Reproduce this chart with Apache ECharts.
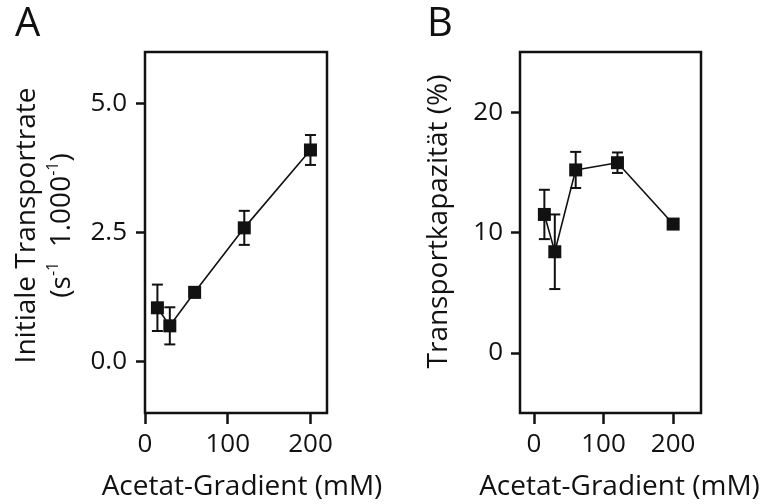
<!DOCTYPE html>
<html>
<head>
<meta charset="utf-8">
<script src="https://cdn.jsdelivr.net/npm/echarts@6/dist/echarts.min.js"></script>
<style>
html,body{margin:0;padding:0;background:#fff;}
#chart{width:767px;height:504px;}
</style>
</head>
<body>
<div id="chart"></div>
<script>
// Acetate gradient (mM)
const gradient = [15, 30, 60, 120, 200];
// Panel A: initial transport rate
const rateMean = [1.04, 0.69, 1.34, 2.59, 4.10];
const rateErr  = [0.45, 0.36, 0.10, 0.33, 0.29];
// Panel B: transport capacity (%)
const capMean = [11.5, 8.4, 15.2, 15.8, 10.7];
const capErr  = [2.05, 3.1, 1.5, 0.85, 0.4];
// tick labels
const xTicks = [0, 100, 200];
const rateTicks = [0, 2.5, 5];
const capTicks = [0, 10, 20];

const FONT = '"Open Sans", "Segoe UI", sans-serif';
const INK = '#111';

function errSeries(xIdx, yIdx, mean, err) {
  return {
    type: 'custom',
    xAxisIndex: xIdx, yAxisIndex: yIdx,
    z: 3,
    data: gradient.map((g, i) => [g, mean[i] - err[i], mean[i] + err[i]]),
    renderItem: function (params, api) {
      const lo = api.coord([api.value(0), api.value(1)]);
      const hi = api.coord([api.value(0), api.value(2)]);
      const w = 5.5;
      const st = { stroke: INK, lineWidth: 2 };
      return {
        type: 'group',
        children: [
          { type: 'line', shape: { x1: lo[0], y1: lo[1], x2: hi[0], y2: hi[1] }, style: st },
          { type: 'line', shape: { x1: lo[0] - w, y1: lo[1], x2: lo[0] + w, y2: lo[1] }, style: st },
          { type: 'line', shape: { x1: hi[0] - w, y1: hi[1], x2: hi[0] + w, y2: hi[1] }, style: st }
        ]
      };
    }
  };
}

function lineSeries(xIdx, yIdx, mean) {
  return {
    type: 'line',
    xAxisIndex: xIdx, yAxisIndex: yIdx,
    z: 4,
    data: gradient.map((g, i) => [g, mean[i]]),
    symbol: 'rect', symbolSize: 13,
    itemStyle: { color: INK },
    lineStyle: { color: INK, width: 1.6 },
    animation: false
  };
}

function xAxisCfg(gridIndex, min, max, shift) {
  return {
    type: 'value', gridIndex, min, max,
    name: 'Acetat-Gradient (mM)',
    nameLocation: 'middle', nameGap: 57,
    nameTextStyle: { fontFamily: FONT, fontSize: 28, color: INK, lineHeight: 34, padding: [0, 0, 0, shift] },
    splitLine: { show: false },
    axisLine: { show: false, onZero: false },
    axisTick: { show: true, inside: false, length: 11, customValues: xTicks, lineStyle: { color: INK, width: 2.5 } },
    axisLabel: { customValues: xTicks, margin: 19, fontFamily: FONT, fontSize: 26, color: INK }
  };
}

const option = {
  backgroundColor: '#fff',
  animation: false,
  grid: [
    { left: 145, top: 52, width: 182, height: 361, show: true, borderColor: INK, borderWidth: 2.5, containLabel: false, outerBoundsMode: 'none' },
    { left: 520, top: 52, width: 181, height: 361, show: true, borderColor: INK, borderWidth: 2.5, containLabel: false, outerBoundsMode: 'none' }
  ],
  graphic: [
    { type: 'text', left: 15, top: 5, style: { text: 'A', fontFamily: FONT, fontSize: 40, fill: INK } },
    { type: 'text', left: 427, top: 5, style: { text: 'B', fontFamily: FONT, fontSize: 40, fill: INK } }
  ],
  xAxis: [ xAxisCfg(0, 0, 220, 12), xAxisCfg(1, -20, 240, 18) ],
  yAxis: [
    {
      type: 'value', gridIndex: 0, min: -1, max: 6,
      name: 'Initiale Transportrate\n{a|(s}{s|-1}{a|  1.000}{s|-1}{a|)}',
      nameLocation: 'middle', nameRotate: 90, nameGap: 65,
      nameTextStyle: {
        fontFamily: FONT, fontSize: 28, color: INK, lineHeight: 35, padding: [0, 0, 0, 14],
        rich: {
          a: { fontFamily: FONT, fontSize: 28, color: INK, lineHeight: 35 },
          s: { fontFamily: FONT, fontSize: 16, color: INK, lineHeight: 22, verticalAlign: 'top' }
        }
      },
      splitLine: { show: false },
      axisLine: { show: false, onZero: false },
      axisTick: { show: true, inside: false, length: 9, customValues: rateTicks, lineStyle: { color: INK, width: 2.5 } },
      axisLabel: { customValues: rateTicks, margin: 18, fontFamily: FONT, fontSize: 26, color: INK,
        formatter: v => v.toFixed(1) }
    },
    {
      type: 'value', gridIndex: 1, min: -5, max: 25,
      name: 'Transportkapazität (%)',
      nameLocation: 'middle', nameRotate: 90, nameGap: 63,
      nameTextStyle: { fontFamily: FONT, fontSize: 28, color: INK, lineHeight: 35, padding: [0, 0, 0, 22] },
      splitLine: { show: false },
      axisLine: { show: false, onZero: false },
      axisTick: { show: true, inside: false, length: 9, customValues: capTicks, lineStyle: { color: INK, width: 2.5 } },
      axisLabel: { customValues: capTicks, margin: 17, fontFamily: FONT, fontSize: 26, color: INK }
    }
  ],
  series: [
    errSeries(0, 0, rateMean, rateErr),
    lineSeries(0, 0, rateMean),
    errSeries(1, 1, capMean, capErr),
    lineSeries(1, 1, capMean)
  ]
};

const chart = echarts.init(document.getElementById('chart'), null, { renderer: 'canvas' });
chart.setOption(option);
</script>
</body>
</html>
